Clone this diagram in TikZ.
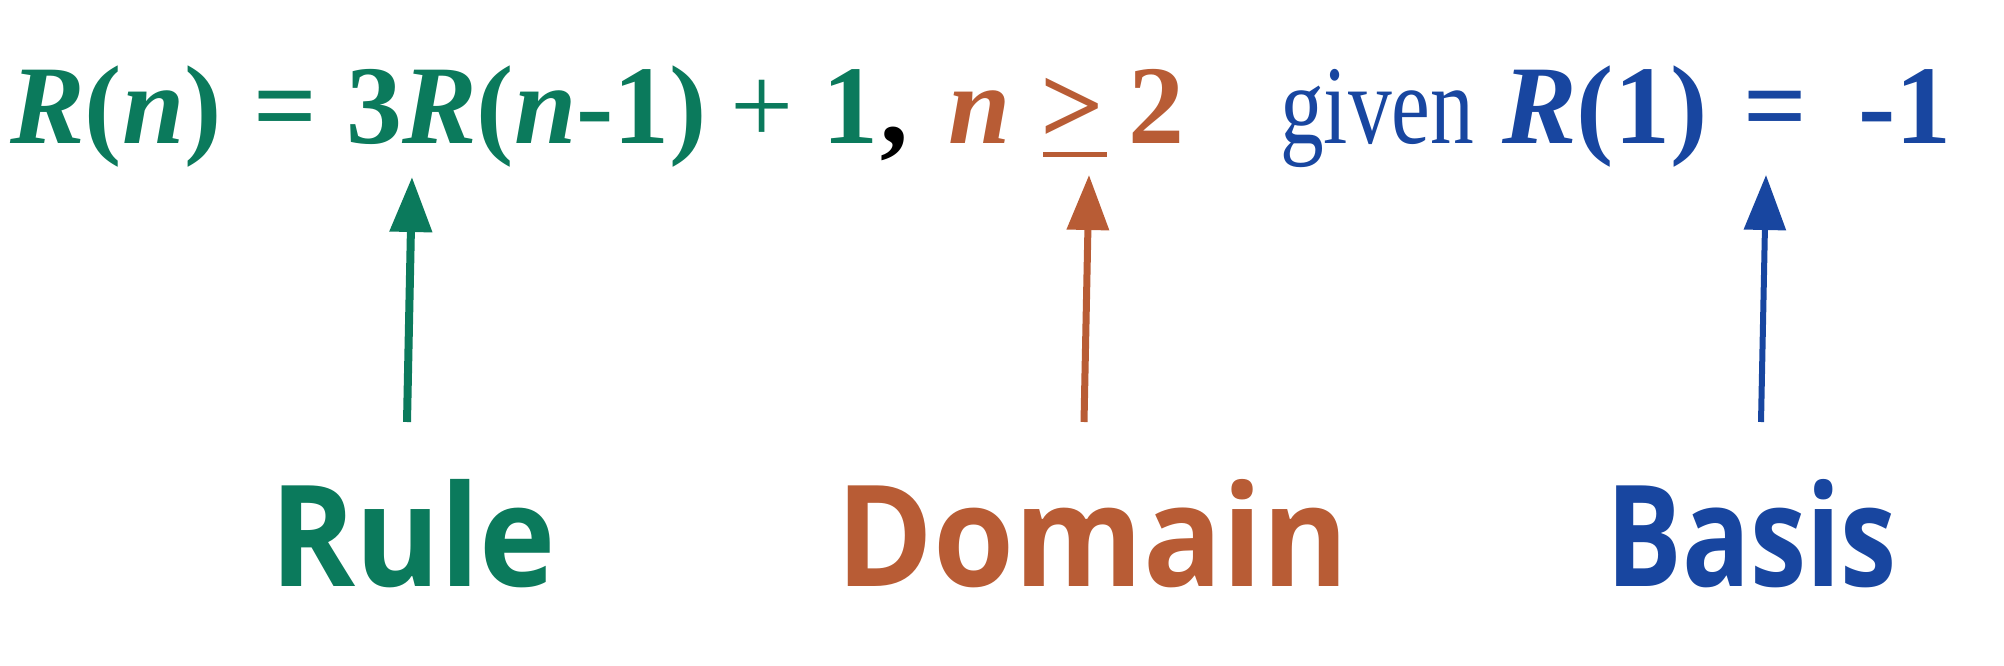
\documentclass[tikz,border=0pt]{standalone}
\usepackage{fontspec}
\usepackage{graphicx}
\setmainfont{Liberation Serif}
\newfontfamily\labfont{Open Sans}
\usetikzlibrary{arrows.meta}
\definecolor{rgreen}{HTML}{0B7A5C}
\definecolor{dorange}{HTML}{B85C35}
\definecolor{bblue}{HTML}{1846A0}
\tikzset{
  eq/.style={inner sep=0pt, anchor=base west, font=\fontsize{112}{120}\selectfont},
  lab/.style={inner sep=0pt, anchor=base west, font=\labfont\bfseries\fontsize{141}{150}\selectfont},
  pointer/.style={-{Triangle[length=55pt,width=41pt]}, line width=#1},
}
\begin{document}
\begin{tikzpicture}[x=1pt,y=-1pt]
\useasboundingbox (0,0) rectangle (2004,666);
% equation
\node[eq, text=rgreen] (e1) at (10,143) {\textbf{\textit{R}(\textit{n})}};
\node[eq, text=rgreen] (e2) at (253,143) {\textbf{=}};
\node[eq, text=rgreen] (e3) at (346,143) {\textbf{3\textit{R}(\textit{n}-1)}};
\node[eq, text=rgreen] (e4) at (730,143) {+};
\node[eq, text=rgreen] (e5) at (822,143) {\textbf{1}};
\node[eq, text=black] (e6) at (880,143) {\textbf{,}};
\node[eq, text=dorange] (e7) at (948,143) {\textbf{\textit{n}}};
\node[eq, text=dorange] (e8) at (1040,143) {\textbf{>}};
\node[eq, text=dorange] (e9) at (1128,143) {\textbf{2}};
\fill[dorange] (1043,152) rectangle (1107,157);
\node[eq, text=bblue] (e10) at (1280,143) {\scalebox{0.78}[1]{given}};
\node[eq, text=bblue] (e11) at (1502,143) {\textbf{\textit{R}(1)}};
\node[eq, text=bblue] (e12) at (1743,143) {\textbf{=}};
\node[eq, text=bblue] (e13) at (1858,143) {\textbf{-1}};
% labels
\node[lab, text=rgreen] (rule) at (270,586) {\scalebox{0.915}[1]{Rule}};
\node[lab, text=dorange] (domain) at (836,586) {\scalebox{0.93}[1]{Domain}};
\node[lab, text=bblue] (basis) at (1606,586) {\scalebox{0.80}[1]{Basis}};
% arrows
\coordinate (ra) at (407,422); \coordinate (rb) at (412,177);
\coordinate (da) at (1084,422); \coordinate (db) at (1089,175);
\coordinate (ba) at (1761,422); \coordinate (bb) at (1766,175);
\draw[pointer=8pt, rgreen] (ra) -- (rb);
\draw[pointer=7pt, dorange] (da) -- (db);
\draw[pointer=6pt, bblue] (ba) -- (bb);
\end{tikzpicture}
\end{document}
